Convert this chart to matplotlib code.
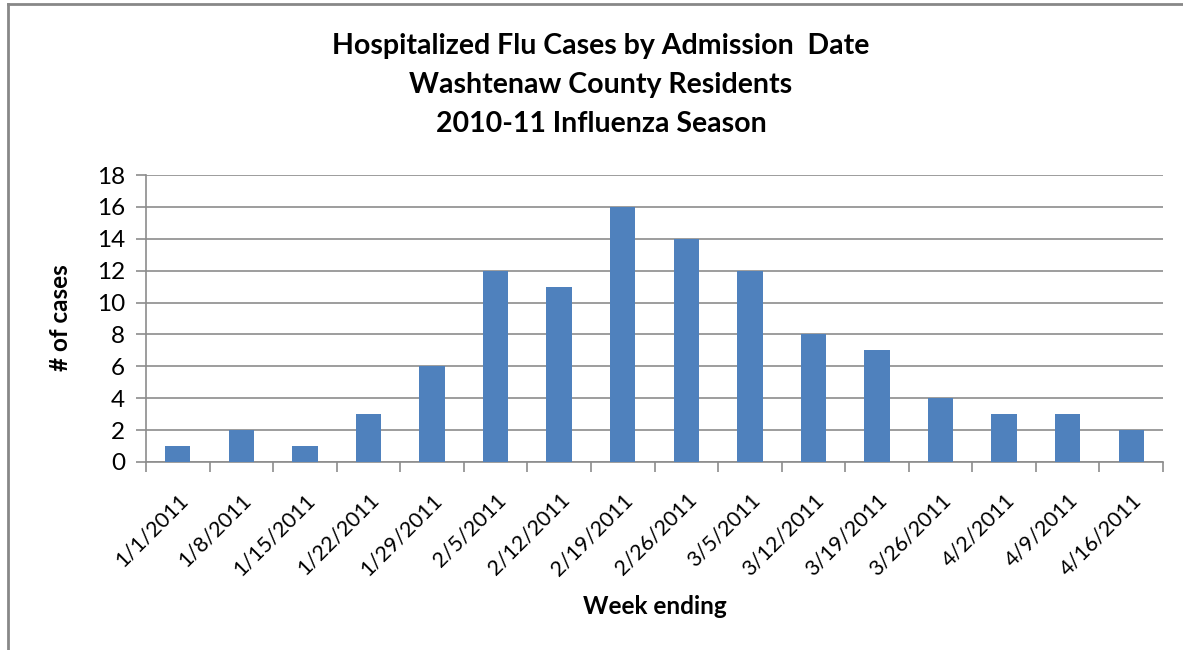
import numpy as np
import matplotlib.pyplot as plt

weeks = ['1/1/2011', '1/8/2011', '1/15/2011', '1/22/2011', '1/29/2011',
         '2/5/2011', '2/12/2011', '2/19/2011', '2/26/2011', '3/5/2011',
         '3/12/2011', '3/19/2011', '3/26/2011', '4/2/2011', '4/9/2011',
         '4/16/2011']
cases = [1, 2, 1, 3, 6, 12, 11, 16, 14, 12, 8, 7, 4, 3, 3, 2]
yticks = [0, 2, 4, 6, 8, 10, 12, 14, 16, 18]

plt.rcParams['font.family'] = ['Lato', 'DejaVu Sans']

fig = plt.figure(figsize=(11.83, 6.5), dpi=100)
ax = fig.add_axes([146 / 1183, 1 - 462 / 650, (1163 - 146) / 1183, (462 - 175) / 650])

x = np.arange(len(weeks))
ax.bar(x, cases, width=0.4, color='#4F81BD', zorder=3)

ax.set_xlim(-0.5, len(weeks) - 0.5)
ax.set_ylim(0, 18)
ax.set_yticks(yticks)
ax.set_yticklabels([str(v) for v in yticks], fontsize=17.5)
ax.yaxis.grid(True, color='#8C8C8C', linewidth=1.2, zorder=0)

# category labels centered on bars, tick marks between categories
ax.set_xticks(x)
ax.set_xticklabels(weeks, rotation=45, ha='right', rotation_mode='anchor', fontsize=15.5)
ax.tick_params(axis='x', length=0, pad=20)
ax.set_xticks(np.arange(len(weeks) + 1) - 0.5, minor=True)
ax.tick_params(axis='x', which='minor', length=7, color='#8C8C8C', width=1.2)
ax.tick_params(axis='y', length=7, color='#8C8C8C', width=1.2, pad=8)

for s in ['top', 'right']:
    ax.spines[s].set_visible(False)
for s in ['left', 'bottom']:
    ax.spines[s].set_color('#8C8C8C')
    ax.spines[s].set_linewidth(1.2)

fig.text(601 / 1183, 1 - 46 / 650, 'Hospitalized Flu Cases by Admission  Date',
         ha='center', va='center', fontsize=20.5, fontweight='bold')
fig.text(601 / 1183, 1 - 85 / 650, 'Washtenaw County Residents',
         ha='center', va='center', fontsize=20.5, fontweight='bold')
fig.text(601 / 1183, 1 - 124 / 650, '2010-11 Influenza Season',
         ha='center', va='center', fontsize=20.5, fontweight='bold')

fig.text(60 / 1183, 1 - 318 / 650, '# of cases', rotation=90, ha='center',
         va='center', fontsize=17.5, fontweight='bold')
fig.text(655 / 1183, 1 - 606 / 650, 'Week ending', ha='center', va='center',
         fontsize=17.5, fontweight='bold')

# frame lines of the cropped chart box
fig.add_artist(plt.Line2D([8 / 1183, 8 / 1183], [0, 1 - 4 / 650],
                          transform=fig.transFigure, color='#888888', linewidth=2))
fig.add_artist(plt.Line2D([8 / 1183, 1], [1 - 4 / 650, 1 - 4 / 650],
                          transform=fig.transFigure, color='#888888', linewidth=2))

fig.savefig('out.png', dpi=100)
